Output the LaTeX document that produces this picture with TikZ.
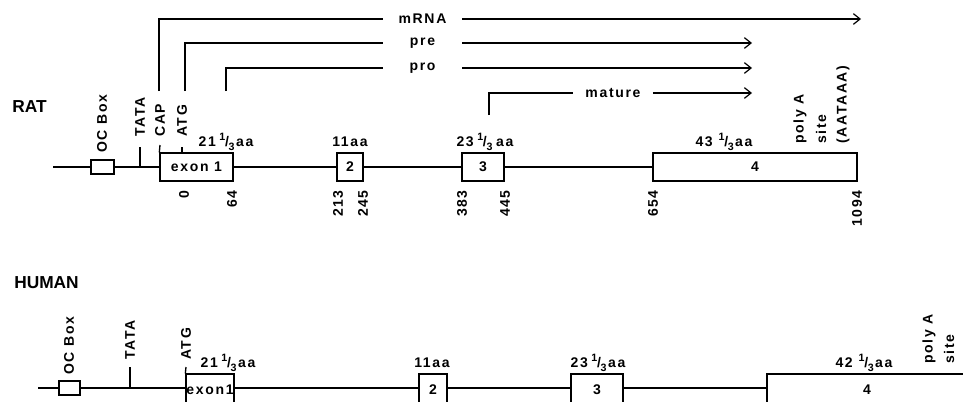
\documentclass[tikz,border=0pt]{standalone}
\usepackage{fontspec}
\setmainfont{Liberation Sans}[LetterSpace=12]
\newfontfamily\titlefont{Liberation Sans}
\usetikzlibrary{arrows.meta}
\newcommand\pxu{0.75pt}
\newcommand\lblsize{\fontsize{10.5}{12}\selectfont\bfseries}
\newcommand\third{\kern0.25em\raisebox{0.8ex}{\fontsize{8}{9}\selectfont 1}\kern-0.02em/\kern-0.02em\raisebox{-0.55ex}{\fontsize{8}{9}\selectfont 3}\kern0.1em}
\tikzset{
  backbone/.style={line width=1pt},
  exon/.style={draw, line width=1pt, fill=white, inner sep=0pt, font=\lblsize},
  site tick/.style={line width=1pt},
  transcript/.style={line width=0.9pt},
  transcript arrow/.style={-{Straight Barb[length=5pt,width=8pt,line width=0.9pt]}, line width=0.9pt},
  vlabel/.style={rotate=90, anchor=west, font=\lblsize, inner sep=0pt},
  poslabel/.style={rotate=90, anchor=east, font=\lblsize, inner sep=0pt},
  aalabel/.style={anchor=base, font=\lblsize, inner sep=0pt},
  rnalabel/.style={font=\lblsize, minimum width=79*\pxu, inner sep=0pt},
  species/.style={anchor=west, font=\titlefont\fontsize{13}{15}\selectfont\bfseries, inner sep=0pt}
}
\begin{document}
\begin{tikzpicture}[x=0.75pt, y=-0.75pt]
  \useasboundingbox (0,0) rectangle (963,401);
  \clip (0,0) rectangle (963,401);

  % ---- RAT ----
  \node[species] (rat) at (12,107) {RAT};
  \coordinate (ratStart) at (53,167);
  \node[exon, minimum width=23*\pxu, minimum height=14*\pxu] (ratOC) at (102.5,167) {};
  \node[exon, minimum width=73*\pxu, minimum height=28*\pxu] (ratE1) at (196.5,167) {exon 1};
  \node[exon, minimum width=26*\pxu, minimum height=28*\pxu] (ratE2) at (350,167) {2};
  \node[exon, minimum width=42*\pxu, minimum height=28*\pxu] (ratE3) at (483,167) {3};
  \node[exon, minimum width=204*\pxu, minimum height=28*\pxu] (ratE4) at (755,167) {4};
  \draw[backbone] (ratStart) -- (ratOC.west) (ratOC.east) -- (ratE1.west)
    (ratE1.east) -- (ratE2.west) (ratE2.east) -- (ratE3.west) (ratE3.east) -- (ratE4.west);

  % promoter marks
  \coordinate (ratTATA) at (140,147);
  \coordinate (ratCAP) at (160,145);
  \coordinate (ratATG) at (182,147);
  \draw[site tick] (ratTATA) -- (ratTATA |- ratStart);
  \draw[site tick] (ratCAP) -- (ratE1.north west);
  \draw[site tick] (ratATG) -- (ratATG |- ratE1.north);
  \node[vlabel] (ratOCl) at (102,153) {OC Box};
  \node[vlabel] (ratTATAl) at (140,137) {TATA};
  \node[vlabel] (ratCAPl) at (160,137) {CAP};
  \node[vlabel] (ratATGl) at (182,137) {ATG};
  \node[vlabel] (ratPolyA) at (800,144) {poly A};
  \node[vlabel] (ratSite) at (821,144) {site};
  \node[vlabel] (ratAATAAA) at (843,144) {(AATAAA)};

  % exon sizes
  \node[aalabel] (ratAA1) at (226,146) {21\third aa};
  \node[aalabel] (ratAA2) at (350,146) {11aa};
  \node[aalabel] (ratAA3) at (485,146) {23\third\,aa};
  \node[aalabel] (ratAA4) at (724,146) {43\,\third aa};

  % nucleotide positions
  \foreach \x/\n in {184/0, 232/64, 338/213, 363/245, 462/383, 505/445, 653/654, 857/1094}
    \node[poslabel] (ratPos\n) at (\x,190) {\n};

  % transcripts
  \coordinate (mrnaStart) at (159,91);
  \coordinate (preStart) at (185,91);
  \coordinate (proStart) at (226,91);
  \coordinate (matStart) at (489,115);
  \node[rnalabel] (mrnaLbl) at (422.5,19) {mRNA};
  \node[rnalabel] (preLbl) at (422.5,43) {pre};
  \node[rnalabel] (proLbl) at (422.5,68) {pro};
  \node[rnalabel] (matLbl) at (613,93) {mature};
  \coordinate (mrnaEnd) at (861,19);
  \coordinate (preEnd) at (752,43);
  \coordinate (proEnd) at (752,68);
  \coordinate (matEnd) at (752,93);
  \draw[transcript] (mrnaStart) |- (mrnaLbl.west);
  \draw[transcript arrow] (mrnaLbl.east) -- (mrnaEnd);
  \draw[transcript] (preStart) |- (preLbl.west);
  \draw[transcript arrow] (preLbl.east) -- (preEnd);
  \draw[transcript] (proStart) |- (proLbl.west);
  \draw[transcript arrow] (proLbl.east) -- (proEnd);
  \draw[transcript] (matStart) |- (matLbl.west);
  \draw[transcript arrow] (matLbl.east) -- (matEnd);

  % ---- HUMAN ----
  \node[species] (human) at (14,283) {HUMAN};
  \coordinate (humStart) at (38,388);
  \node[exon, minimum width=21*\pxu, minimum height=14*\pxu] (humOC) at (69.5,388) {};
  \node[exon, minimum width=48*\pxu, minimum height=32*\pxu] (humE1) at (210,390) {exon1};
  \node[exon, minimum width=28*\pxu, minimum height=32*\pxu] (humE2) at (433,390) {2};
  \node[exon, minimum width=52*\pxu, minimum height=32*\pxu] (humE3) at (597,390) {3};
  \node[exon, minimum width=200*\pxu, minimum height=32*\pxu] (humE4) at (867,390) {4};
  \draw[backbone] (humStart) -- (humOC.west) (humOC.east) -- (humE1.west |- humStart)
    (humE1.east |- humStart) -- (humE2.west |- humStart) (humE2.east |- humStart) -- (humE3.west |- humStart)
    (humE3.east |- humStart) -- (humE4.west |- humStart);

  \coordinate (humTATA) at (130,367);
  \coordinate (humATG) at (186,367);
  \draw[site tick] (humTATA) -- (humTATA |- humStart);
  \draw[site tick] (humATG) -- (humE1.north west);
  \node[vlabel] (humOCl) at (69,375) {OC Box};
  \node[vlabel] (humTATAl) at (130,360) {TATA};
  \node[vlabel] (humATGl) at (186,360) {ATG};
  \node[vlabel] (humPolyA) at (929,364) {poly A};
  \node[vlabel] (humSite) at (949,364) {site};

  \node[aalabel] (humAA1) at (228,367) {21\third aa};
  \node[aalabel] (humAA2) at (432,367) {11aa};
  \node[aalabel] (humAA3) at (598,367) {23\third aa};
  \node[aalabel] (humAA4) at (864,367) {42\,\third aa};
\end{tikzpicture}
\end{document}
